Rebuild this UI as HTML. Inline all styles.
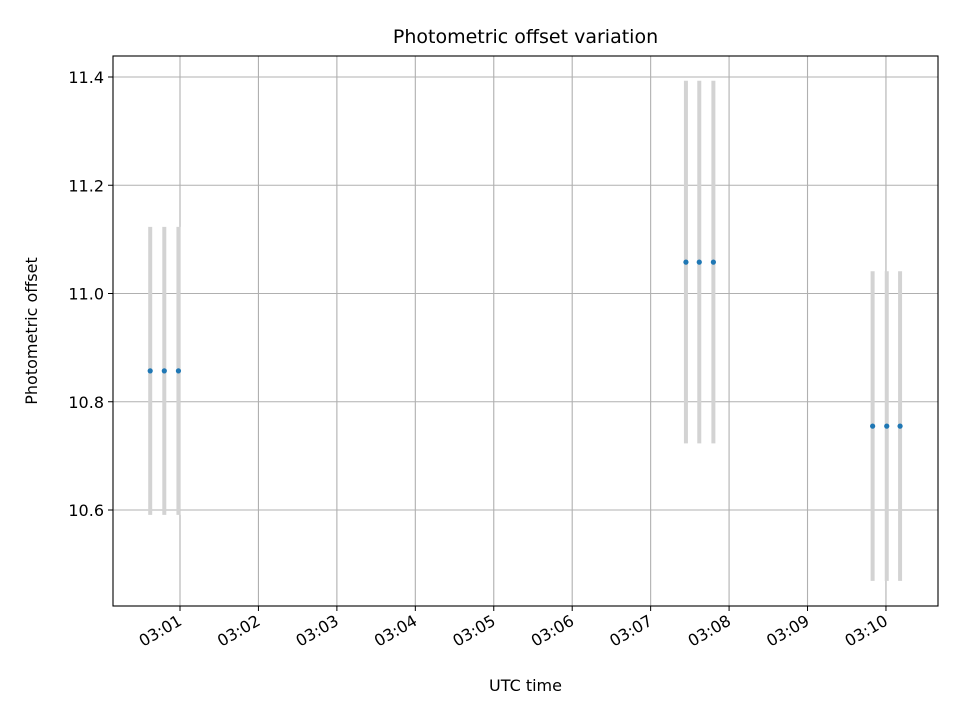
<!DOCTYPE html>
<html><head><meta charset="utf-8"><style>
body{margin:0;background:#fff;font-family:"Liberation Sans","DejaVu Sans",sans-serif}
svg text{font-family:"DejaVu Sans","Liberation Sans",sans-serif}
</style></head><body>
<svg id="chart" width="960" height="720" xmlns="http://www.w3.org/2000/svg"></svg>
<script>
// minutes past 03:00
const times = [0.62, 0.80, 0.98, 7.45, 7.62, 7.80, 9.83, 10.01, 10.18];
const offsets = [10.857, 10.857, 10.857, 11.058, 11.058, 11.058, 10.755, 10.755, 10.755];
const errors = [0.266, 0.266, 0.266, 0.335, 0.335, 0.335, 0.286, 0.286, 0.286];
const xTickMinutes = [1, 2, 3, 4, 5, 6, 7, 8, 9, 10];
const xTickLabels = ["03:01","03:02","03:03","03:04","03:05","03:06","03:07","03:08","03:09","03:10"];
const yTicks = [10.6, 10.8, 11.0, 11.2, 11.4];
const yTickLabels = ["10.6","10.8","11.0","11.2","11.4"];

const L=113,R=938,T=56,B=606;
const xs = m => 180 + (m-1)*78.44;
const ys = v => 293.5 - (v-11.0)*541.25;
const svg=document.getElementById('chart');
const NS="http://www.w3.org/2000/svg";
function mk(tag,attrs,parent){const e=document.createElementNS(NS,tag);for(const k in attrs)e.setAttribute(k,attrs[k]);(parent||svg).appendChild(e);return e;}

xTickMinutes.forEach((m,i)=>{
  const x=xs(m);
  const g=mk('line',{x1:x,x2:x,y1:T,y2:B,stroke:'#b0b0b0','stroke-width':1.1});
  
  
  const t=mk('line',{x1:x,x2:x,y1:B,y2:B+5,stroke:'#000','stroke-width':1});
  
  
  const lb=mk('text',{x:x+3,y:B+18,'font-size':16,'text-anchor':'end',transform:`rotate(-30 ${x+3} ${B+18})`});
  lb.textContent=xTickLabels[i];
  
  
});
yTicks.forEach((v,i)=>{
  const y=ys(v);
  const g=mk('line',{x1:L,x2:R,y1:y,y2:y,stroke:'#b0b0b0','stroke-width':1.1});
  
  
  const t=mk('line',{x1:L-5,x2:L,y1:y,y2:y,stroke:'#000','stroke-width':1});
  
  
  const lb=mk('text',{x:L-9,y:y+6,'font-size':16,'text-anchor':'end'});
  lb.textContent=yTickLabels[i];
  
  
});
times.forEach((m,i)=>{
  const x=xs(m);
  const e=mk('line',{x1:x,x2:x,y1:ys(offsets[i]+errors[i]),y2:ys(offsets[i]-errors[i]),stroke:'#d3d3d3','stroke-width':4});
  
  
});
times.forEach((m,i)=>{
  const p=mk('circle',{cx:xs(m),cy:ys(offsets[i]),r:2.6,fill:'#1f77b4'});
  
  
});
const fr=mk('rect',{x:L,y:T,width:R-L,height:B-T,fill:'none',stroke:'#000','stroke-width':1.1});


const ti=mk('text',{x:(L+R)/2,y:43,'font-size':19,'text-anchor':'middle'});
ti.textContent='Photometric offset variation';


const xl=mk('text',{x:(L+R)/2,y:691,'font-size':16,'text-anchor':'middle'});
xl.textContent='UTC time';


const yl=mk('text',{x:37,y:331,'font-size':16,'text-anchor':'middle',transform:'rotate(-90 37 331)'});
yl.textContent='Photometric offset';


</script>
</body></html>
